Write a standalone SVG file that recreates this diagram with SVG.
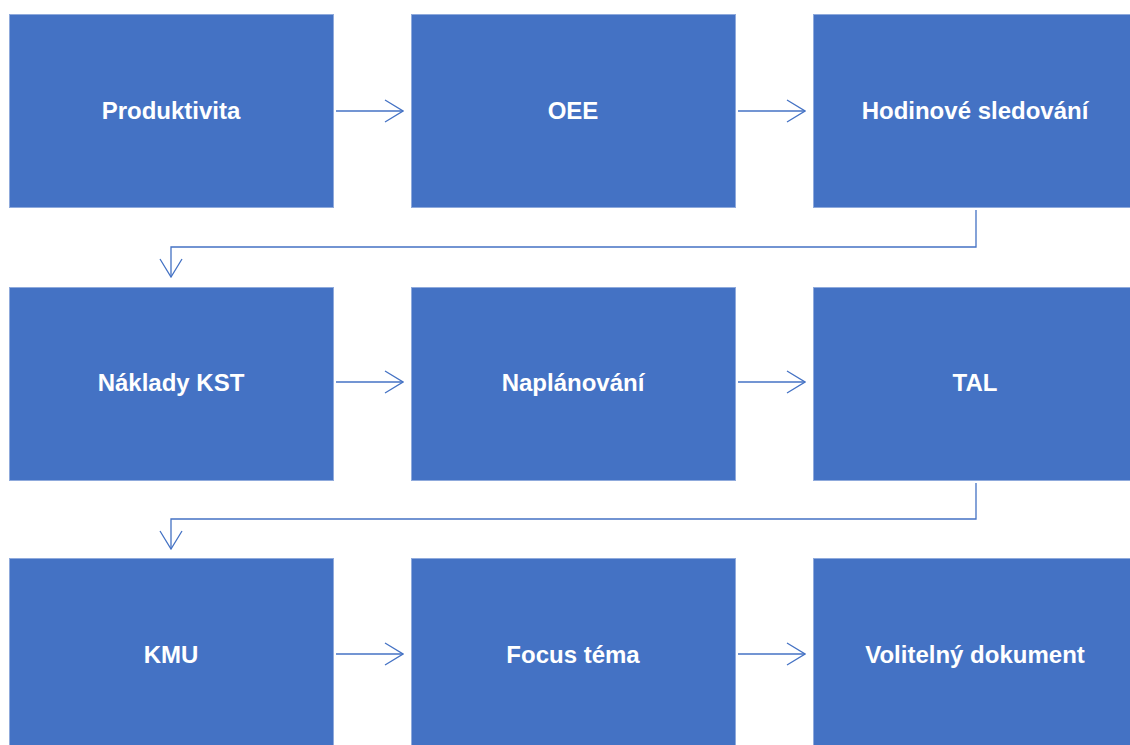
<svg xmlns="http://www.w3.org/2000/svg" width="1130" height="745" viewBox="0 0 1130 745">
<style>
.box{fill:#4472C4;stroke:#8FAADC;stroke-width:1}
.lbl{fill:#fff;font-family:"Liberation Sans",Arial,sans-serif;font-weight:bold;font-size:24px;text-anchor:middle;dominant-baseline:central}
.con{fill:none;stroke:#4472C4;stroke-width:1.3}
</style>
<defs>
<marker id="arr" viewBox="0 0 20 24" refX="19" refY="12" markerWidth="20" markerHeight="24" markerUnits="userSpaceOnUse" orient="auto">
<path d="M1,1 L19,12 L1,23" fill="none" stroke="#4472C4" stroke-width="1.3"/>
</marker>
</defs>
<rect width="1130" height="745" fill="#fff"/>
<g id="n1"><rect class="box" x="9.5" y="14.5" width="324" height="193"/><text class="lbl" x="171" y="110">Produktivita</text></g>
<g id="n2"><rect class="box" x="411.5" y="14.5" width="324" height="193"/><text class="lbl" x="573" y="110">OEE</text></g>
<g id="n3"><rect class="box" x="813.5" y="14.5" width="324" height="193"/><text class="lbl" x="975" y="110">Hodinové sledování</text></g>
<g id="n4"><rect class="box" x="9.5" y="287.5" width="324" height="193"/><text class="lbl" x="171" y="382">Náklady KST</text></g>
<g id="n5"><rect class="box" x="411.5" y="287.5" width="324" height="193"/><text class="lbl" x="573" y="382">Naplánování</text></g>
<g id="n6"><rect class="box" x="813.5" y="287.5" width="324" height="193"/><text class="lbl" x="975" y="382">TAL</text></g>
<g id="n7"><rect class="box" x="9.5" y="558.5" width="324" height="193"/><text class="lbl" x="171" y="654">KMU</text></g>
<g id="n8"><rect class="box" x="411.5" y="558.5" width="324" height="193"/><text class="lbl" x="573" y="654">Focus téma</text></g>
<g id="n9"><rect class="box" x="813.5" y="558.5" width="324" height="193"/><text class="lbl" x="975" y="654">Volitelný dokument</text></g>
<g id="connectors">
<path class="con" d="M336,111 H403" marker-end="url(#arr)"/>
<path class="con" d="M738,111 H805" marker-end="url(#arr)"/>
<path class="con" d="M976,210 V247 H171 V277" marker-end="url(#arr)"/>
<path class="con" d="M336,382 H403" marker-end="url(#arr)"/>
<path class="con" d="M738,382 H805" marker-end="url(#arr)"/>
<path class="con" d="M976,483 V519 H171 V549" marker-end="url(#arr)"/>
<path class="con" d="M336,654 H403" marker-end="url(#arr)"/>
<path class="con" d="M738,654 H805" marker-end="url(#arr)"/>
</g>
</svg>
